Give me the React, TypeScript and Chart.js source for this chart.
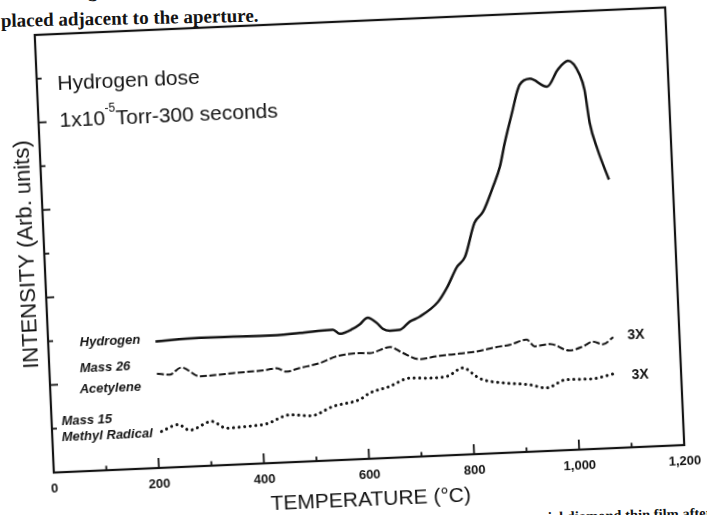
import React, { useEffect, useRef } from 'react';
import { Chart, registerables } from 'chart.js';

Chart.register(...registerables);

const INK = '#141414';
const SANS = '"Liberation Sans", Arial, Helvetica, sans-serif';
const SERIF = '"Liberation Serif", "Times New Roman", serif';

// Axis ranges
const tempMin = 0;
const tempMax = 1200;
const tempStep = 100;
const intensityMin = 0;
const intensityMax = 10;
const intensityStep = 1;

// Hydrogen desorption trace
const hydrogenTemp = [204, 288, 416, 479, 542, 555, 580, 593, 609, 626, 637, 650, 669, 689, 708, 744, 762, 783, 799, 820, 837, 858, 873, 884, 902, 911, 917, 937, 969, 991, 1011, 1032, 1040, 1047, 1060, 1079];
const hydrogenIntensity = [2.89, 2.93, 2.91, 2.94, 2.98, 2.88, 2.98, 3.07, 3.22, 3.09, 2.95, 2.9, 2.91, 3.09, 3.19, 3.51, 3.82, 4.29, 4.51, 5.28, 5.52, 6.08, 6.54, 7.07, 7.82, 8.2, 8.38, 8.51, 8.31, 8.69, 8.88, 8.55, 8.2, 7.45, 6.82, 6.13];

// Mass 26 (acetylene) trace, shown at 3X
const acetyleneTemp = [204, 228, 251, 285, 349, 412, 432, 450, 476, 514, 547, 591, 610, 649, 673, 705, 737, 781, 813, 851, 877, 909, 924, 953, 990, 1016, 1035, 1054, 1074];
const acetyleneIntensity = [2.15, 2.12, 2.27, 2.05, 2.09, 2.13, 2.16, 2.07, 2.14, 2.23, 2.37, 2.42, 2.41, 2.53, 2.38, 2.22, 2.27, 2.31, 2.34, 2.42, 2.46, 2.56, 2.4, 2.44, 2.27, 2.35, 2.45, 2.38, 2.53];

// Mass 15 (methyl radical) trace, shown at 3X
const methylTemp = [208, 240, 262, 304, 332, 370, 408, 453, 494, 536, 587, 607, 645, 684, 722, 754, 786, 811, 823, 867, 911, 943, 982, 1026, 1074];
const methylIntensity = [0.83, 0.97, 0.83, 1.01, 0.84, 0.86, 0.9, 1.08, 1.04, 1.23, 1.36, 1.5, 1.63, 1.8, 1.78, 1.8, 1.98, 1.77, 1.69, 1.59, 1.53, 1.44, 1.61, 1.6, 1.7];

const seriesNames = ['Hydrogen', 'Mass 26', 'Acetylene', 'Mass 15', 'Methyl Radical'];
const scaleNote = '3X';
const doseTitle = 'Hydrogen dose';
const doseMantissa = '1x10';
const doseExponent = '-5';
const doseRest = 'Torr-300 seconds';

const toPoints = (xs: number[], ys: number[]) => xs.map((x, i) => ({ x, y: ys[i] }));

// Text placed in data units on the plot
const seriesLabelAnchors = [
  { t: 60, v: 2.85 },
  { t: 58, v: 2.26 },
  { t: 56, v: 1.79 },
  { t: 19, v: 1.08 },
  { t: 18, v: 0.7 },
];
const scaleNoteAnchors = [
  { t: 1101, v: 2.46 },
  { t: 1106, v: 1.56 },
];

const framePlugin = {
  id: 'frameAndNotes',
  afterDraw(chart: any) {
    const { ctx, chartArea: a, scales } = chart;
    const xs = scales.x;
    const ys = scales.y;
    ctx.save();
    ctx.strokeStyle = INK;
    ctx.fillStyle = INK;
    ctx.lineWidth = 2.2;
    ctx.strokeRect(a.left, a.top, a.right - a.left, a.bottom - a.top);

    // inward tick marks
    ctx.lineWidth = 1.8;
    xs.ticks.forEach((tk: any) => {
      const v = tk.value;
      if (v <= xs.min || v >= xs.max) return;
      const len = v % 200 === 0 ? 10 : 4.5;
      const px = xs.getPixelForValue(v);
      ctx.beginPath();
      ctx.moveTo(px, a.bottom);
      ctx.lineTo(px, a.bottom - len);
      ctx.stroke();
    });
    ys.ticks.forEach((tk: any) => {
      const v = tk.value;
      if (v <= ys.min || v >= ys.max) return;
      const len = v % 2 === 0 ? 8 : 5;
      const py = ys.getPixelForValue(v);
      ctx.beginPath();
      ctx.moveTo(a.left, py);
      ctx.lineTo(a.left + len, py);
      ctx.stroke();
    });

    // dose note
    ctx.textBaseline = 'alphabetic';
    ctx.textAlign = 'left';
    ctx.font = `21px ${SANS}`;
    ctx.fillText(doseTitle, xs.getPixelForValue(39), ys.getPixelForValue(8.73));
    let px = xs.getPixelForValue(40);
    const py = ys.getPixelForValue(7.88);
    ctx.fillText(doseMantissa, px, py);
    px += ctx.measureText(doseMantissa).width;
    ctx.font = `12px ${SANS}`;
    ctx.fillText(doseExponent, px, py - 13);
    px += ctx.measureText(doseExponent).width;
    ctx.font = `21px ${SANS}`;
    ctx.fillText(doseRest, px, py);

    // series names
    ctx.font = `italic bold 13px ${SANS}`;
    seriesNames.forEach((name, i) => {
      const an = seriesLabelAnchors[i];
      ctx.fillText(name, xs.getPixelForValue(an.t), ys.getPixelForValue(an.v));
    });
    ctx.font = `bold 14px ${SANS}`;
    scaleNoteAnchors.forEach((an) => {
      ctx.fillText(scaleNote, xs.getPixelForValue(an.t), ys.getPixelForValue(an.v));
    });
    ctx.restore();
  },
};

export default function App() {
  const canvasRef = useRef<HTMLCanvasElement | null>(null);

  useEffect(() => {
    if (!canvasRef.current) return;
    const chart = new Chart(canvasRef.current, {
      type: 'line',
      data: {
        datasets: [
          {
            label: 'Hydrogen',
            data: toPoints(hydrogenTemp, hydrogenIntensity),
            borderColor: INK,
            borderWidth: 2.5,
            pointRadius: 0,
            cubicInterpolationMode: 'monotone',
          },
          {
            label: 'Mass 26 Acetylene',
            data: toPoints(acetyleneTemp, acetyleneIntensity),
            borderColor: INK,
            borderWidth: 2,
            borderDash: [7, 2.5],
            pointRadius: 0,
            cubicInterpolationMode: 'monotone',
          },
          {
            label: 'Mass 15 Methyl Radical',
            data: toPoints(methylTemp, methylIntensity),
            borderColor: INK,
            borderWidth: 3,
            borderDash: [0.1, 5.5],
            borderCapStyle: 'round',
            pointRadius: 0,
            cubicInterpolationMode: 'monotone',
          },
        ],
      },
      options: {
        animation: false,
        responsive: false,
        devicePixelRatio: 1,
        layout: { padding: { top: 21, right: 32, left: 0, bottom: 0 } },
        plugins: {
          legend: { display: false },
          tooltip: { enabled: false },
        },
        scales: {
          x: {
            type: 'linear',
            min: tempMin,
            max: tempMax,
            grid: { display: false, drawTicks: false },
            border: { display: false },
            afterFit: (s: any) => {
              s.height = 56;
            },
            ticks: {
              stepSize: tempStep,
              autoSkip: false,
              maxRotation: 0,
              minRotation: 0,
              padding: 9,
              color: INK,
              font: { family: SANS, size: 13, weight: 'bold' },
              callback: (value: any) => {
                const n = Number(value);
                return n % 200 === 0 ? n.toLocaleString('en-US') : '';
              },
            },
            title: {
              display: true,
              text: 'TEMPERATURE (°C)',
              color: INK,
              font: { family: SANS, size: 21 },
              padding: { top: 0, bottom: 2 },
            },
          },
          y: {
            type: 'linear',
            min: intensityMin,
            max: intensityMax,
            grid: { display: false, drawTicks: false },
            border: { display: false },
            afterFit: (s: any) => {
              s.width = 44;
            },
            ticks: { stepSize: intensityStep, display: false },
            title: {
              display: true,
              text: 'INTENSITY (Arb. units)',
              color: INK,
              font: { family: SANS, size: 22 },
              padding: { top: 14, bottom: 0 },
            },
          },
        },
      },
      plugins: [framePlugin],
    } as any);
    return () => chart.destroy();
  }, []);

  return (
    <div
      style={{
        position: 'fixed',
        left: 0,
        top: 0,
        width: 707,
        height: 515,
        overflow: 'hidden',
        background: '#fff',
      }}
    >
      <div
        style={{
          position: 'absolute',
          left: 1,
          top: -17,
          font: `bold 19px/19px ${SERIF}`,
          color: INK,
          whiteSpace: 'nowrap',
          transform: 'rotate(-1.2deg)',
          transformOrigin: '0 0',
        }}
      >
        after dosing,
      </div>
      <div
        style={{
          position: 'absolute',
          left: 1,
          top: 11,
          font: `bold 19px/19px ${SERIF}`,
          color: INK,
          whiteSpace: 'nowrap',
          transform: 'rotate(-1.2deg)',
          transformOrigin: '0 100%',
        }}
      >
        placed adjacent to the aperture.
      </div>
      <div
        style={{
          position: 'absolute',
          left: 548,
          top: 510,
          font: `bold 14.5px/14.5px ${SERIF}`,
          color: INK,
          whiteSpace: 'nowrap',
          transform: 'rotate(-1.5deg)',
          transformOrigin: '0 100%',
        }}
      >
        ial diamond thin film after
      </div>
      <canvas
        ref={canvasRef}
        width={707}
        height={515}
        style={{
          position: 'absolute',
          left: 0,
          top: 0,
          width: 707,
          height: 515,
          transform: 'rotate(-2.5deg)',
          transformOrigin: '359.75px 240.25px',
        }}
      />
    </div>
  );
}
